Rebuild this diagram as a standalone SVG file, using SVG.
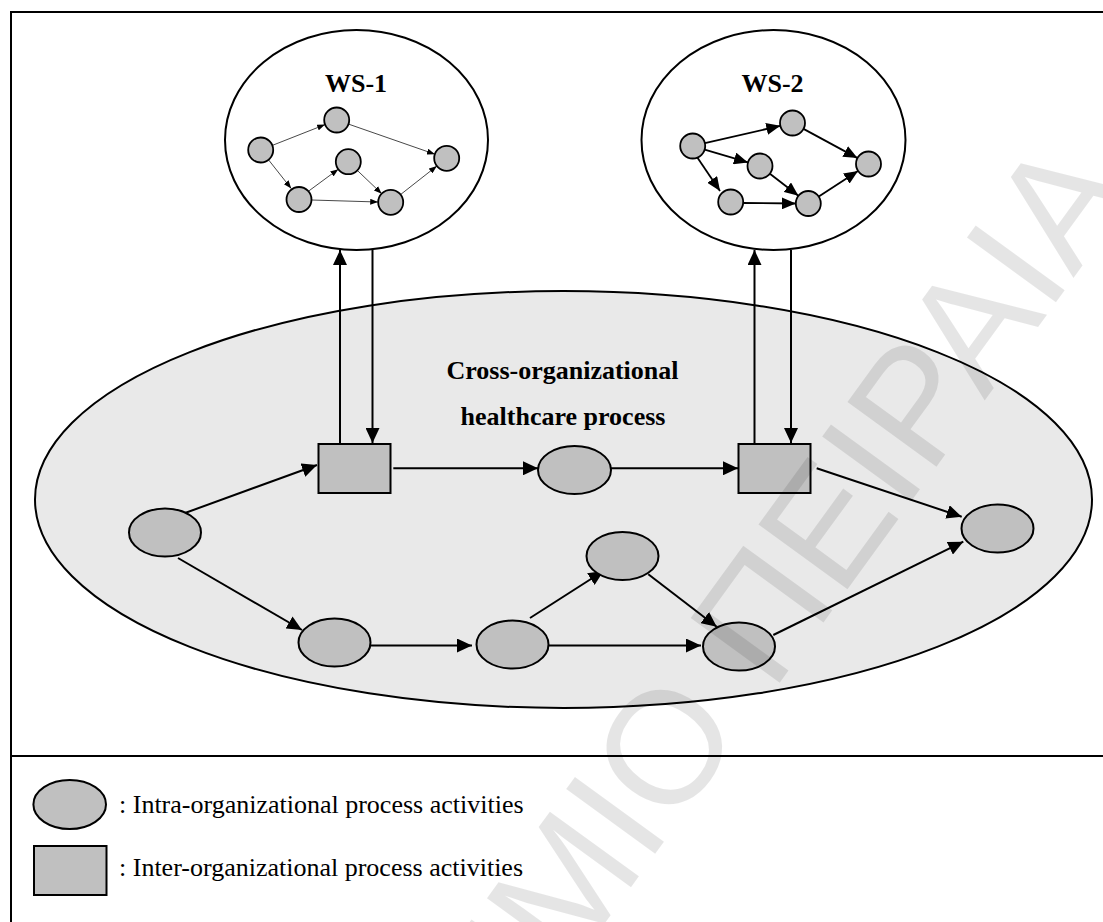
<svg xmlns="http://www.w3.org/2000/svg" width="1103" height="922" viewBox="0 0 1103 922">
  <defs>
    <style>
      .frame { fill: none; stroke: #000; stroke-width: 2; }
      .cloud { fill: #fff; stroke: #000; stroke-width: 2; }
      .process { fill: #e9e9e9; stroke: #000; stroke-width: 2; }
      .act { fill: #c0c0c0; stroke: #000; stroke-width: 2; }
      .dot { fill: #c0c0c0; stroke: #000; stroke-width: 1.8; }
      .flow { fill: none; stroke: #000; stroke-width: 2; marker-end: url(#head); }
      .thin { fill: none; stroke: #333; stroke-width: 0.9; marker-end: url(#headSmall); }
      .bold { fill: none; stroke: #000; stroke-width: 1.8; marker-end: url(#headMid); }
      .title { font-family: "Liberation Serif", "Times New Roman", serif; font-weight: bold; font-size: 26px; text-anchor: middle; fill: #000; }
      .legend { font-family: "Liberation Serif", "Times New Roman", serif; font-size: 26px; fill: #000; }
      .mark { font-family: "Liberation Sans", Arial, sans-serif; font-size: 160px; fill: #000; fill-opacity: 0.1; }
    </style>
    <marker id="head" markerUnits="userSpaceOnUse" markerWidth="15" markerHeight="14" refX="15" refY="7" orient="auto">
      <path d="M0,0 L15,7 L0,14 z" fill="#000"/>
    </marker>
    <marker id="headMid" markerUnits="userSpaceOnUse" markerWidth="14" markerHeight="12" refX="14" refY="6" orient="auto">
      <path d="M0,0 L14,6 L0,12 z" fill="#000"/>
    </marker>
    <marker id="headSmall" markerUnits="userSpaceOnUse" markerWidth="8" markerHeight="6" refX="8" refY="3" orient="auto">
      <path d="M0,0 L8,3 L0,6 z" fill="#000"/>
    </marker>
  </defs>

  <rect width="1103" height="922" fill="#fff"/>

  <!-- outer frame and legend divider -->
  <path class="frame" d="M1110,12 H11 V930 M11,756 H1110"/>

  <!-- main process area -->
  <g id="process-area">
    <ellipse class="process" cx="563.5" cy="499.5" rx="528.5" ry="208.5"/>
    <text class="title" x="562.5" y="379">Cross-organizational</text>
    <text class="title" x="563" y="425">healthcare process</text>
  </g>

  <!-- web service WS-1 -->
  <g id="ws-1">
    <ellipse class="cloud" cx="356.5" cy="140" rx="131.5" ry="110"/>
    <text class="title" x="356" y="92">WS-1</text>
    <g class="ws1-flows">
      <line class="thin" x1="272.3" y1="145.4" x2="325.1" y2="124.6"/>
      <line class="thin" x1="268.5" y1="159.8" x2="291.2" y2="188.5"/>
      <line class="thin" x1="348.5" y1="124.1" x2="434.9" y2="154.2"/>
      <line class="thin" x1="309" y1="190.8" x2="338.3" y2="169.2"/>
      <line class="thin" x1="311.5" y1="200" x2="378.2" y2="202"/>
      <line class="thin" x1="357.3" y1="170.4" x2="381.7" y2="193.7"/>
      <line class="thin" x1="400.5" y1="194.6" x2="436.9" y2="166"/>
    </g>
    <circle class="dot" cx="260.7" cy="150" r="12.5"/>
    <circle class="dot" cx="336.7" cy="120" r="12.5"/>
    <circle class="dot" cx="348.3" cy="161.7" r="12.5"/>
    <circle class="dot" cx="446.7" cy="158.3" r="12.5"/>
    <circle class="dot" cx="299" cy="199.5" r="12.5"/>
    <circle class="dot" cx="390.7" cy="202.3" r="12.5"/>
  </g>

  <!-- web service WS-2 -->
  <g id="ws-2">
    <ellipse class="cloud" cx="773.5" cy="140" rx="132" ry="110"/>
    <text class="title" x="772.5" y="92">WS-2</text>
    <g class="ws2-flows">
      <line class="bold" x1="704.9" y1="143.2" x2="780.3" y2="125.8"/>
      <line class="bold" x1="704.7" y1="149.6" x2="748" y2="162.4"/>
      <line class="bold" x1="697" y1="157" x2="720" y2="191"/>
      <line class="bold" x1="803.5" y1="128.9" x2="857.5" y2="158.1"/>
      <line class="bold" x1="769.9" y1="173.7" x2="798.4" y2="195.8"/>
      <line class="bold" x1="743.2" y1="203" x2="795.8" y2="203.5"/>
      <line class="bold" x1="818.8" y1="196.6" x2="858" y2="170.9"/>
    </g>
    <circle class="dot" cx="692.7" cy="146" r="12.5"/>
    <circle class="dot" cx="792.5" cy="123" r="12.5"/>
    <circle class="dot" cx="760" cy="166" r="12.5"/>
    <circle class="dot" cx="868.5" cy="164" r="12.5"/>
    <circle class="dot" cx="730.7" cy="202" r="12.5"/>
    <circle class="dot" cx="808.3" cy="203.5" r="12.5"/>
  </g>

  <!-- connectors of the cross-organizational process -->
  <g id="connectors">
    <line class="flow" x1="340" y1="443" x2="340" y2="250"/>
    <line class="flow" x1="372.5" y1="250" x2="372.5" y2="443"/>
    <line class="flow" x1="754.5" y1="443" x2="754.5" y2="250"/>
    <line class="flow" x1="791" y1="250" x2="791" y2="443"/>
    <line class="flow" x1="185" y1="513" x2="317" y2="465"/>
    <line class="flow" x1="178" y1="558" x2="302" y2="630"/>
    <line class="flow" x1="393.3" y1="468.3" x2="538" y2="468.3"/>
    <line class="flow" x1="611" y1="468.3" x2="738" y2="468.3"/>
    <line class="flow" x1="816.7" y1="468.3" x2="961.7" y2="516.7"/>
    <line class="flow" x1="371" y1="645.5" x2="472" y2="645.5"/>
    <line class="flow" x1="530" y1="618" x2="603.5" y2="571"/>
    <line class="flow" x1="548.5" y1="645.5" x2="701" y2="645.5"/>
    <line class="flow" x1="648.3" y1="574.3" x2="716.7" y2="626.7"/>
    <line class="flow" x1="773.3" y1="635" x2="963.3" y2="541.7"/>
  </g>

  <!-- activities -->
  <g id="start"><ellipse class="act" cx="165" cy="532.5" rx="36" ry="24"/></g>
  <g id="inter-1"><rect class="act" x="318.5" y="444" width="72" height="49"/></g>
  <g id="middle"><ellipse class="act" cx="574.5" cy="470" rx="36.5" ry="24"/></g>
  <g id="inter-2"><rect class="act" x="738.5" y="444" width="72" height="49"/></g>
  <g id="end"><ellipse class="act" cx="997.5" cy="528.5" rx="36" ry="24"/></g>
  <g id="lower-1"><ellipse class="act" cx="334.5" cy="642.5" rx="36" ry="24"/></g>
  <g id="lower-2"><ellipse class="act" cx="512.5" cy="644.5" rx="36" ry="24"/></g>
  <g id="upper"><ellipse class="act" cx="622.5" cy="556" rx="36" ry="24"/></g>
  <g id="join"><ellipse class="act" cx="739" cy="646.5" rx="36" ry="24"/></g>

  <!-- legend -->
  <g id="legend">
    <ellipse class="act" cx="69.7" cy="804.5" rx="36.3" ry="24.5"/>
    <text class="legend" x="119" y="813">: Intra-organizational process activities</text>
    <rect class="act" x="34" y="846" width="72.5" height="49"/>
    <text class="legend" x="119" y="876">: Inter-organizational process activities</text>
  </g>

  <!-- faint diagonal stamp -->
  <text class="mark" transform="translate(1136,192) rotate(-54)" text-anchor="end">ΠΑΝΕΠΙΣΤΗΜΙΟ ΠΕΙΡΑΙΑ</text>
</svg>
